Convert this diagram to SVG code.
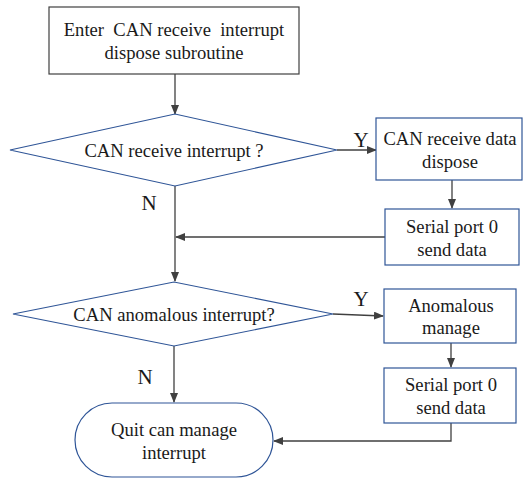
<svg xmlns="http://www.w3.org/2000/svg" width="524" height="479" viewBox="0 0 524 479">
<style>
text{font-family:'Liberation Serif','Times New Roman','DejaVu Serif',serif;font-size:18.6px;fill:#1a1a1a;text-anchor:middle}
.lbl{font-size:21px}
.box{fill:#fff;stroke:#2f5597;stroke-width:1.2}
.blk{fill:#fff;stroke:#404040;stroke-width:1.2}
.c{fill:none;stroke:#404040;stroke-width:1.3;marker-end:url(#a)}
</style>
<defs>
<marker id="a" markerWidth="10" markerHeight="8" refX="9" refY="4" orient="auto" markerUnits="userSpaceOnUse">
<path d="M0,0 L10,4 L0,8 Z" fill="#404040"/>
</marker>
</defs>
<rect width="524" height="479" fill="#fff"/>
<g id="connectors">
<path class="c" d="M175,74 V114"/>
<path class="c" d="M337,150 H376"/>
<path class="c" d="M452,180 V208"/>
<path class="c" d="M385,237 H176"/>
<path class="c" d="M175,186 V281"/>
<path class="c" d="M333,314 L383,316"/>
<path class="c" d="M451,343 V367"/>
<path class="c" d="M174,346 V402"/>
<path class="c" d="M451,423 V441 H274"/>
</g>
<g id="start">
<rect class="blk" x="49" y="7" width="250" height="67"/>
<text x="174" y="36" xml:space="preserve">Enter  CAN receive  interrupt</text>
<text x="174" y="59">dispose subroutine</text>
</g>
<g id="dec1">
<polygon class="box" points="10,150 175,114 337,150 175,186"/>
<text x="174" y="157">CAN receive interrupt ?</text>
</g>
<g id="recv">
<rect class="box" x="376" y="118" width="146" height="62"/>
<text x="450" y="145">CAN receive data</text>
<text x="450" y="168">dispose</text>
</g>
<g id="send1">
<rect class="box" x="385" y="209" width="134" height="56"/>
<text x="452" y="233">Serial port 0</text>
<text x="452" y="256">send data</text>
</g>
<g id="dec2">
<polygon class="box" points="13,314 174,282 333,314 174,346"/>
<text x="174" y="321">CAN anomalous interrupt?</text>
</g>
<g id="anom">
<rect class="box" x="384" y="289" width="132" height="54"/>
<text x="451" y="312">Anomalous</text>
<text x="451" y="334">manage</text>
</g>
<g id="send2">
<rect class="box" x="384" y="368" width="132" height="55"/>
<text x="451" y="391">Serial port 0</text>
<text x="451" y="414">send data</text>
</g>
<g id="end">
<rect class="box" x="75" y="403" width="198" height="74" rx="37" ry="37"/>
<text x="174" y="436">Quit can manage</text>
<text x="174" y="459">interrupt</text>
</g>
<g id="labels">
<text class="lbl" x="361" y="147">Y</text>
<text class="lbl" x="149" y="210">N</text>
<text class="lbl" x="361" y="306">Y</text>
<text class="lbl" x="145" y="384">N</text>
</g>
</svg>
